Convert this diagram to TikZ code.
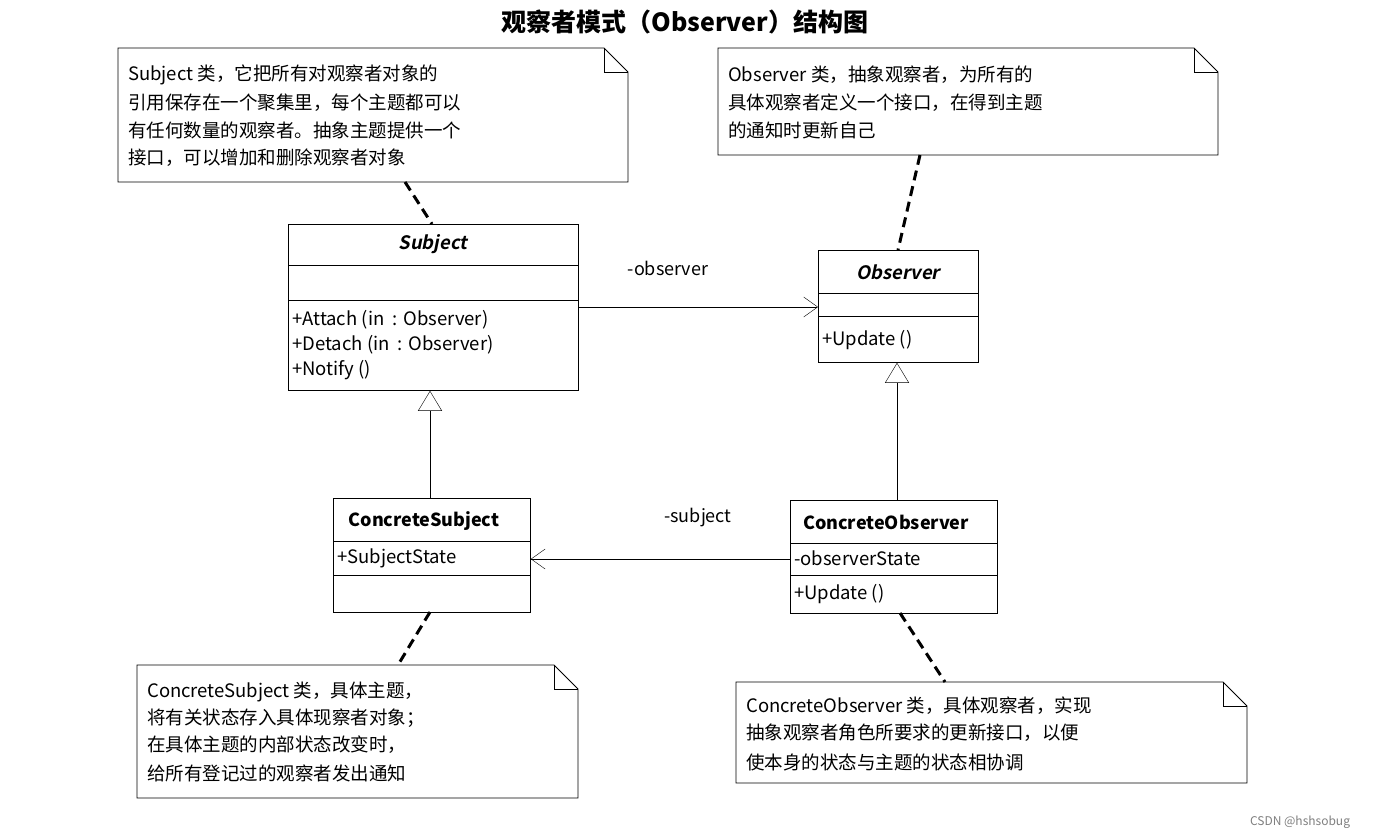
\documentclass[tikz,border=0pt]{standalone}
\usepackage{fontspec}
\setmainfont{Noto Sans CJK SC}
\newfontfamily\slfont[FakeSlant=0.2]{Noto Sans CJK SC Bold}
\usetikzlibrary{arrows.meta}
\begin{document}
\begin{tikzpicture}[x=1pt,y=-1pt,
  box/.style={draw,thick,anchor=north west,inner sep=0pt},
  txt/.style={anchor=west,inner sep=0pt,font=\fontsize{18.5}{20}\selectfont},
  lnk/.style={line width=3pt,dash pattern=on 10pt off 6pt},
  assoc/.style={-{Straight Barb[length=14pt,width=20pt]},thin},
  inh/.style={-{Triangle[open,length=20pt,width=24pt,fill=white]},thin}]
\useasboundingbox (0,0) rectangle (1380,838);
\fill[white] (0,0) rectangle (1380,838);
\node[font=\fontsize{25}{28}\selectfont\bfseries] (title) at (685,22) {观察者模式（Observer）结构图};
% notes
\newcommand{\mynote}[5]{%
  \draw[thick,fill=white] (#1,#2)--(#3-24,#2)--(#3,#2+24)--(#3,#4)--(#1,#4)--cycle;
  \draw[thick] (#3-24,#2)--(#3-24,#2+24)--(#3,#2+24);
  \coordinate (#5) at (#1,#2);}
\mynote{118}{48}{628}{182}{n1}
\mynote{718}{48}{1218}{155}{n2}
\mynote{137}{665}{578}{798}{n3}
\mynote{736}{682}{1247}{783}{n4}
\node[txt] at (128,75) {Subject 类，它把所有对观察者对象的};
\node[txt] at (128,103) {引用保存在一个聚集里，每个主题都可以};
\node[txt] at (128,130) {有任何数量的观察者。抽象主题提供一个};
\node[txt] at (128,158) {接口，可以增加和删除观察者对象};
\node[txt] at (728,75) {Observer 类，抽象观察者，为所有的};
\node[txt] at (728,103) {具体观察者定义一个接口，在得到主题};
\node[txt] at (728,130) {的通知时更新自己};
\node[txt] at (147,692) {ConcreteSubject 类，具体主题，};
\node[txt] at (147,718) {将有关状态存入具体现察者对象；};
\node[txt] at (147,745) {在具体主题的内部状态改变时，};
\node[txt] at (147,773) {给所有登记过的观察者发出通知};
\node[txt] at (746,706) {ConcreteObserver 类，具体观察者，实现};
\node[txt] at (746,733) {抽象观察者角色所要求的更新接口，以便};
\node[txt] at (746,762) {使本身的状态与主题的状态相协调};
% classes
\node[box,minimum width=290pt,minimum height=166pt] (subj) at (288,224) {};
\draw[thick] (288,265)--(578,265) (288,300)--(578,300);
\node[font=\fontsize{18.5}{20}\selectfont\slfont] at (433,244) {Subject};
\node[txt] at (292,320) {+Attach (in \ : Observer)};
\node[txt] at (292,345) {+Detach (in \ : Observer)};
\node[txt] at (292,370) {+Notify ()};
\node[box,minimum width=160pt,minimum height=112pt] (obs) at (818,250) {};
\draw[thick] (818,293)--(978,293) (818,316)--(978,316);
\node[font=\fontsize{18.5}{20}\selectfont\slfont] at (898,272) {Observer};
\node[txt] at (822,340) {+Update ()};
\node[box,minimum width=197pt,minimum height=114pt] (cs) at (333,498) {};
\draw[thick] (333,541)--(530,541) (333,575)--(530,575);
\node[font=\fontsize{18}{20}\selectfont\bfseries] at (424,521) {ConcreteSubject};
\node[txt] at (337,558) {+SubjectState};
\node[box,minimum width=207pt,minimum height=113pt] (co) at (790,500) {};
\draw[thick] (790,543)--(997,543) (790,575)--(997,575);
\node[font=\fontsize{18}{20}\selectfont\bfseries] at (886,522) {ConcreteObserver};
\node[txt] at (794,558) {-observerState};
\node[txt] at (794,594) {+Update ()};
% connectors
\draw[assoc] (subj.east|-0,307) -- (obs.west|-0,307);
\node[font=\fontsize{18}{20}\selectfont] (l1) at (668,268) {-observer};
\draw[assoc] (co.west|-0,559) -- (cs.east|-0,559);
\node[font=\fontsize{18}{20}\selectfont] (l2) at (698,518) {-subject};
\draw[inh] (cs.north-|430,0) -- (subj.south-|430,0);
\draw[inh] (co.north-|897,0) -- (obs.south-|897,0);
\draw[lnk] (405,182) -- (432,224);
\draw[lnk] (920,155) -- (898,250);
\draw[lnk] (430,612) -- (398,665);
\draw[lnk] (900,613) -- (945,682);
\node[font=\fontsize{12}{14}\selectfont,text=gray] (wm) at (1300,822) {CSDN @hshsobug};
\end{tikzpicture}
\end{document}
